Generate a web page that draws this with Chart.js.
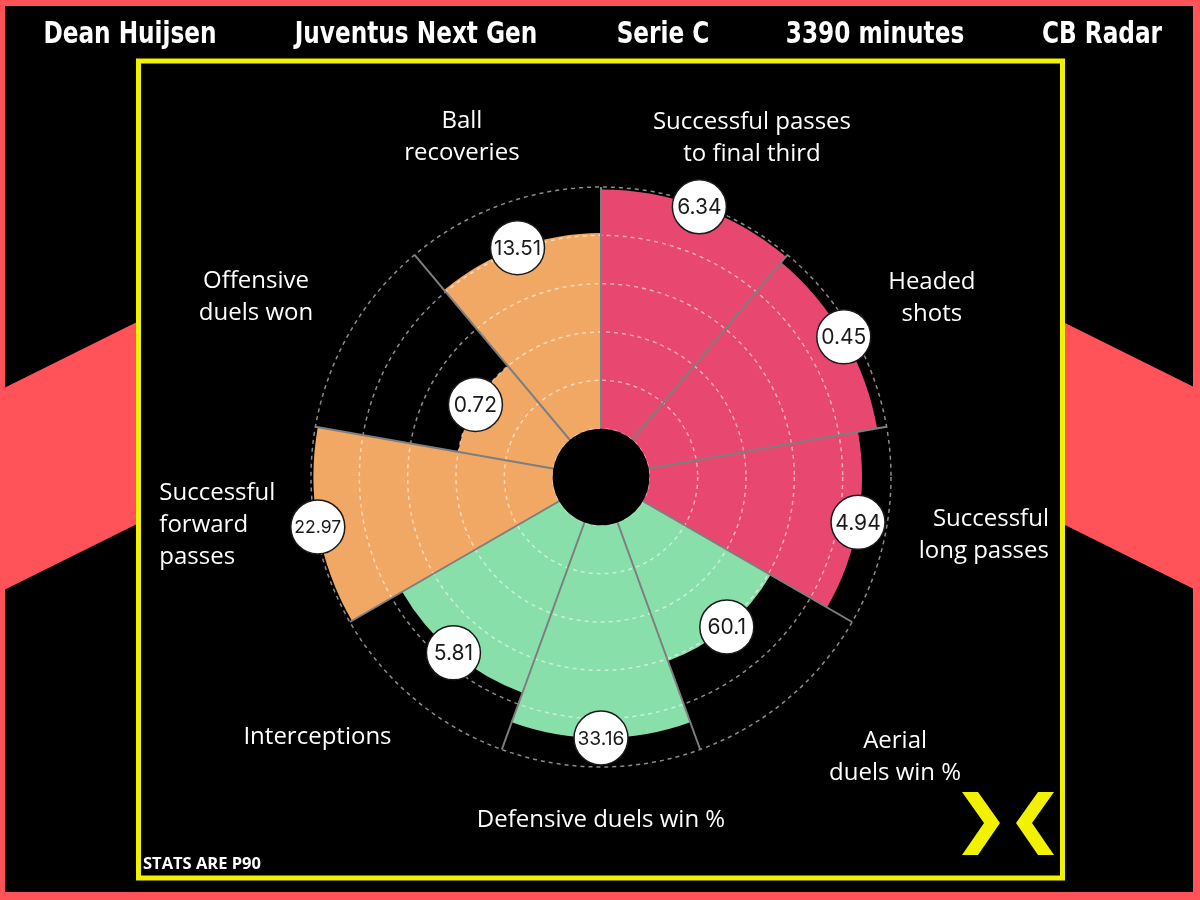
<!DOCTYPE html>
<html>
<head>
<meta charset="utf-8">
<script src="https://cdn.jsdelivr.net/npm/chart.js@4.4.1/dist/chart.umd.min.js"></script>
<style>
  html, body { margin: 0; padding: 0; background: #000; }
  canvas { display: block; }
</style>
</head>
<body>
<canvas id="pizza" width="1200" height="900"></canvas>
<script>
const categories = [
    ["Successful passes", "to final third"],
    ["Headed", "shots"],
    ["Successful", "long passes"],
    ["Aerial", "duels win %"],
    ["Defensive duels win %"],
    ["Interceptions"],
    ["Successful", "forward", "passes"],
    ["Offensive", "duels won"],
    ["Ball", "recoveries"],
];
const percentiles = [99, 96, 88, 61, 88, 75, 99, 40, 81];
const rawValues = ["6.34", "0.45", "4.94", "60.1", "33.16", "5.81", "22.97", "0.72", "13.51"];
const headerItems = ["Dean Huijsen", "Juventus Next Gen", "Serie C", "3390 minutes", "CB Radar"];
const footNote = "STATS ARE P90";

// radial axis: the hole sits below 0, rings every 20
const axisMin = -20;
const axisMax = 100;
const axisStep = 20;

const RED = "#ff5359";
const YELLOW = "#f2f200";
const PINK = "#e8476f";
const GREEN = "#88dfaa";
const ORANGE = "#f0a864";
const sliceColors = [PINK, PINK, PINK, GREEN, GREEN, GREEN, ORANGE, ORANGE, ORANGE];

// hand placement tweaks for the category labels (px, from the auto position)
const labelNudge = [[20, 21], [8, 8], [0, -9], [46, -16], [0, 8], [-40, -30], [-5, -19], [-12, 12], [-13, 7]];

const backdrop = {
    id: "backdrop",
    beforeDraw(chart) {
        const ctx = chart.ctx;
        const W = chart.width;
        const H = chart.height;
        ctx.save();
        ctx.fillStyle = RED;
        ctx.fillRect(0, 0, W, H);
        ctx.fillStyle = "#000";
        ctx.fillRect(5, 6, W - 12, H - 14);

        // side bands
        ctx.fillStyle = RED;
        ctx.beginPath();
        ctx.moveTo(0, 390); ctx.lineTo(137, 322); ctx.lineTo(137, 524); ctx.lineTo(0, 592);
        ctx.closePath();
        ctx.fill();
        ctx.beginPath();
        ctx.moveTo(W, 390); ctx.lineTo(W - 137, 322); ctx.lineTo(W - 137, 524); ctx.lineTo(W, 592);
        ctx.closePath();
        ctx.fill();

        ctx.fillStyle = "#000";
        ctx.fillRect(138, 61, 925, 817);
        ctx.strokeStyle = YELLOW;
        ctx.lineWidth = 5;
        ctx.strokeRect(138.5, 61, 924, 817);

        // header, squeezed to a condensed look
        const centers = [130, 416, 663, 875, 1102];
        ctx.fillStyle = "#fff";
        ctx.textAlign = "center";
        ctx.textBaseline = "middle";
        ctx.font = "bold 30px 'Liberation Sans Narrow', 'DejaVu Sans Condensed', sans-serif";
        headerItems.forEach((t, i) => {
            ctx.save();
            ctx.translate(centers[i], 35);
            ctx.scale(0.86, 1);
            ctx.fillText(t, 0, 0);
            ctx.restore();
        });

        // footer
        ctx.textAlign = "left";
        ctx.textBaseline = "alphabetic";
        ctx.font = "bold 16.5px 'Open Sans', sans-serif";
        ctx.fillText(footNote, 143, 869);

        // logo
        ctx.fillStyle = YELLOW;
        ctx.beginPath();
        ctx.moveTo(962, 792); ctx.lineTo(978, 792); ctx.lineTo(1000, 823);
        ctx.lineTo(978, 855); ctx.lineTo(962, 855); ctx.lineTo(984, 823);
        ctx.closePath();
        ctx.fill();
        ctx.beginPath();
        ctx.moveTo(1054, 792); ctx.lineTo(1038, 792); ctx.lineTo(1016, 823);
        ctx.lineTo(1038, 855); ctx.lineTo(1054, 855); ctx.lineTo(1032, 823);
        ctx.closePath();
        ctx.fill();
        ctx.restore();
    },
};

const overlay = {
    id: "overlay",
    afterDraw(chart) {
        const ctx = chart.ctx;
        const scale = chart.scales.r;
        const cx = scale.xCenter;
        const cy = scale.yCenter;
        ctx.save();

        // hole over the zero ring
        ctx.beginPath();
        ctx.arc(cx, cy, scale.getDistanceFromCenterForValue(0), 0, Math.PI * 2);
        ctx.fillStyle = "#000";
        ctx.fill();

        // value badges on the slice edges
        const arcs = chart.getDatasetMeta(0).data;
        ctx.textAlign = "center";
        ctx.textBaseline = "middle";
        arcs.forEach((arc, i) => {
            const p = arc.getProps(["x", "y", "startAngle", "endAngle", "outerRadius"], true);
            const mid = (p.startAngle + p.endAngle) / 2;
            const bx = p.x + Math.cos(mid) * p.outerRadius;
            const by = p.y + Math.sin(mid) * p.outerRadius;
            ctx.beginPath();
            ctx.arc(bx, by, 27, 0, Math.PI * 2);
            ctx.fillStyle = "#fff";
            ctx.fill();
            ctx.lineWidth = 1.5;
            ctx.strokeStyle = "#1a1a1a";
            ctx.stroke();
            ctx.fillStyle = "#1a1a1a";
            let size = 21;
            ctx.font = size + "px Inter, 'Open Sans', sans-serif";
            const tw = ctx.measureText(rawValues[i]).width;
            if (tw > 47) {
                size = size * 47 / tw;
                ctx.font = size.toFixed(1) + "px Inter, 'Open Sans', sans-serif";
            }
            ctx.fillText(rawValues[i], bx, by + 1);
        });

        // category labels outside the outer ring
        const step = (Math.PI * 2) / categories.length;
        const lineH = 32;
        const r0 = scale.drawingArea * 1.1;
        ctx.font = "24px 'Open Sans', sans-serif";
        ctx.fillStyle = "#fff";
        categories.forEach((lines, i) => {
            const a = scale.getIndexAngle(i) + step / 2 - Math.PI / 2;
            const ux = Math.cos(a);
            const uy = Math.sin(a);
            const w = Math.max(...lines.map((l) => ctx.measureText(l).width));
            const h = lines.length * lineH;
            const d = r0 + Math.abs(ux) * w / 2 + Math.abs(uy) * h / 2;
            const lx = cx + ux * d + labelNudge[i][0];
            const ly = cy + uy * d + labelNudge[i][1];
            let tx = lx;
            ctx.textAlign = "center";
            if (Math.abs(ux) > 0.95) {
                ctx.textAlign = ux < 0 ? "left" : "right";
                tx = ux < 0 ? lx - w / 2 : lx + w / 2;
            }
            lines.forEach((l, k) => {
                ctx.fillText(l, tx, ly - h / 2 + lineH * (k + 0.5));
            });
        });
        ctx.restore();
    },
};

new Chart(document.getElementById("pizza"), {
    type: "polarArea",
    data: {
        labels: categories,
        datasets: [
            {
                data: percentiles,
                backgroundColor: sliceColors,
                borderWidth: 0,
            },
        ],
    },
    options: {
        responsive: false,
        animation: false,
        devicePixelRatio: 1,
        layout: { padding: { left: 311, right: 309, top: 187, bottom: 133 } },
        plugins: {
            legend: { display: false },
            tooltip: { enabled: false },
        },
        scales: {
            r: {
                min: axisMin,
                max: axisMax,
                startAngle: 0,
                ticks: { display: false, stepSize: axisStep },
                pointLabels: { display: false },
                grid: { circular: true, color: "rgba(255,255,255,0.55)", lineWidth: 1.5, z: 1 },
                border: { dash: [4, 4] },
                angleLines: { display: true, color: "#7e7e7e", lineWidth: 2 },
            },
        },
    },
    plugins: [backdrop, overlay],
});
</script>
</body>
</html>
